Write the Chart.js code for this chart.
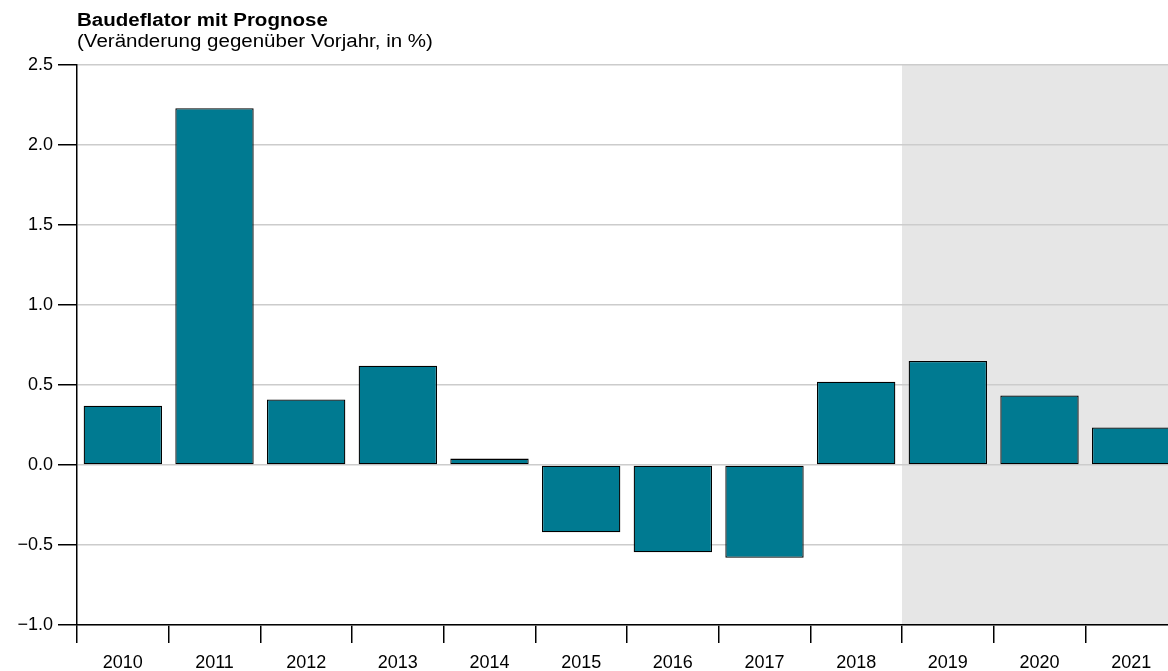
<!DOCTYPE html>
<html>
<head>
<meta charset="utf-8">
<script src="https://cdn.jsdelivr.net/npm/chart.js@4/dist/chart.umd.min.js"></script>
<style>
  html, body { margin: 0; padding: 0; background: #fff; overflow: hidden; width: 1168px; height: 671px; }
  #wrap { position: absolute; left: 0; top: 0; width: 1180px; height: 671px; }
  .ttl { position: absolute; left: 77px; font-family: "Liberation Sans", Arial, sans-serif; font-size: 18px; line-height: 20px; color: #000; white-space: nowrap; transform: scaleX(1.14); transform-origin: left top; }
  #t1 { top: 10px; font-weight: bold; }
  #t2 { top: 31px; }
</style>
</head>
<body>
<div id="wrap"><canvas id="myChart" width="1180" height="671"></canvas></div>
<div class="ttl" id="t1">Baudeflator mit Prognose</div>
<div class="ttl" id="t2">(Veränderung gegenüber Vorjahr, in %)</div>
<script>
//  data
let years = ['2010', '2011', '2012', '2013', '2014', '2015', '2016', '2017', '2018', '2019', '2020', '2021'];
let deflator_values = [0.37, 2.23, 0.41, 0.62, 0.04, -0.42, -0.545, -0.58, 0.52, 0.65, 0.435, 0.235];
let forecast_start = '2019';
let y_ticks = [-1.0, -0.5, 0.0, 0.5, 1.0, 1.5, 2.0, 2.5];

const font_family = '"Liberation Sans", Arial, sans-serif';

// grey background for forecast years
const forecast_shade = {
  id: 'forecast_shade',
  beforeDraw(chart) {
    const x = chart.scales.x;
    const area = chart.chartArea;
    const i = years.indexOf(forecast_start);
    const left = (x.getPixelForValue(i - 1) + x.getPixelForValue(i)) / 2;
    const ctx = chart.ctx;
    ctx.save();
    ctx.fillStyle = '#e6e6e6';
    ctx.fillRect(left, area.top, area.right - left, area.bottom - area.top);
    ctx.restore();
  }
};

const ctx = document.getElementById('myChart').getContext('2d');
const myChart = new Chart(ctx, {
  type: 'bar',
  data: {
    labels: years,
    datasets: [{
      data: deflator_values,
      backgroundColor: '#007a91',
      borderColor: '#000',
      borderWidth: 1.3,
      borderSkipped: false,
      barPercentage: 0.855,
      categoryPercentage: 1
    }]
  },
  plugins: [forecast_shade],
  options: {
    responsive: false,
    animation: false,
    layout: { padding: { top: 65, right: 3, left: 0, bottom: 0 } },
    plugins: {
      legend: { display: false },
      tooltip: { enabled: false }
    },
    scales: {
      x: {
        offset: true,
        grid: {
          offset: true,
          drawOnChartArea: false,
          drawTicks: true,
          tickLength: 18,
          tickColor: '#000',
          lineWidth: 1.5
        },
        border: { color: '#000', width: 1.5 },
        ticks: {
          color: '#000',
          padding: 9,
          maxRotation: 0,
          font: { family: font_family, size: 18 }
        },
        afterFit: (scale) => { scale.height = 46; }
      },
      y: {
        min: -1,
        max: 2.5,
        afterBuildTicks: (scale) => { scale.ticks = y_ticks.map(v => ({ value: v })); },
        grid: {
          color: '#cccccc',
          lineWidth: 1.5,
          drawTicks: true,
          tickLength: 19,
          tickColor: '#000'
        },
        border: { color: '#000', width: 1.5 },
        ticks: {
          color: '#000',
          padding: 5,
          font: { family: font_family, size: 18 },
          callback: (v) => Number(v).toFixed(1).replace('-', '\u2212')
        },
        afterFit: (scale) => { scale.width = 77; }
      }
    }
  }
});
</script>
</body>
</html>
